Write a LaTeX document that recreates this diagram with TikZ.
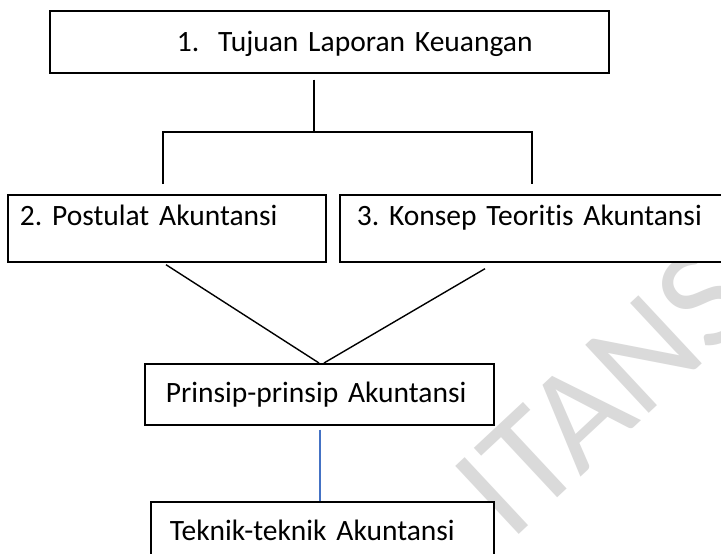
\documentclass[tikz,border=0pt]{standalone}
\usepackage{fontspec}
\setmainfont{Carlito}[Ligatures=NoCommon]
\usetikzlibrary{calc}
\definecolor{wordblue}{RGB}{68,114,196}
\definecolor{wmgray}{RGB}{218,218,218}
\begin{document}
\frenchspacing
\begin{tikzpicture}[x=1pt,y=-1pt,
  box/.style={draw, line width=1.7pt, fill=white, inner sep=0pt, anchor=north west,
    align=left, font=\fontsize{29.5}{35}\selectfont},
  conn/.style={line width=1.4pt},
  bluelink/.style={draw=wordblue, line width=1.1pt},
  wmark/.style={rotate=43, anchor=base west, text=wmgray, inner sep=0pt,
    font=\fontsize{145}{145}\selectfont}]
\useasboundingbox (0,0) rectangle (721,554);
\clip (0,0) rectangle (721,554);
\fill[white] (0,0) rectangle (721,554);
% watermark
\node[wmark] (wm) at (510,543) {ITANS};
% boxes
\node[box, text width=559pt, text height=41pt, text depth=21pt] (b1) at (49,10)
  {\hspace*{127pt}1.\hspace{19pt}Tujuan Laporan Keuangan};
\node[box, text width=318pt, text height=31pt, text depth=36pt] (b2) at (7,194)
  {\hspace*{12pt}2. Postulat Akuntansi};
\node[box, text width=400pt, text height=31pt, text depth=36pt] (b3) at (339,194)
  {\hspace*{17pt}3. Konsep Teoritis Akuntansi};
\node[box, text width=349pt, text height=39pt, text depth=22pt] (b4) at (144,363)
  {\hspace*{21pt}Prinsip-prinsip Akuntansi};
\node[box, text width=343pt, text height=39pt, text depth=40pt] (b5) at (150,501)
  {\hspace*{19pt}Teknik-teknik Akuntansi};
% connectors
\coordinate (split) at (314,132);
\coordinate (lx) at (163,0);
\coordinate (rx) at (532,0);
\draw[conn] ($(b1.south -| split)+(0,6)$) -- (split);
\draw[conn] ($(b2.north -| lx)+(0,-10)$) -- (split -| lx) -- (split -| rx) -- ($(b3.north -| rx)+(0,-10)$);
\draw[conn] ($(b2.south west)+(159,2)$) -- ($(b4.north west)+(175,0)$);
\draw[conn] ($(b3.south west)+(146,6)$) -- ($(b4.north west)+(180,0)$);
\draw[bluelink] ($(b4.south west)+(176,4)$) -- ($(b5.north west)+(170,0)$);
\end{tikzpicture}
\end{document}
